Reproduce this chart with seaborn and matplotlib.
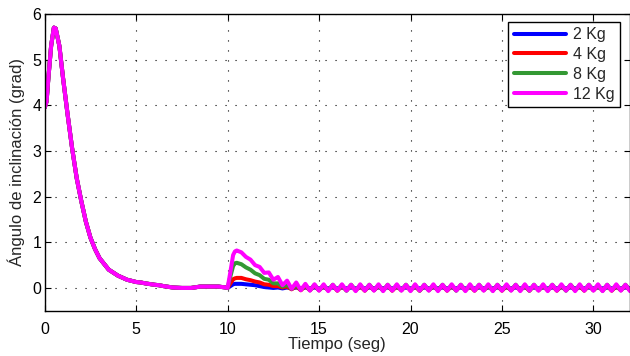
import numpy as np
import pandas as pd
import matplotlib
matplotlib.use("Agg")
import matplotlib.pyplot as plt
import seaborn as sns

# ---- data ----
masses = ["2 Kg", "4 Kg", "8 Kg", "12 Kg"]
colors = ["#0000ff", "#ff0000", "#339933", "#ff00ff"]

# common response before the disturbance
t_common = [0.0, 0.1, 0.2, 0.35, 0.5, 0.6, 0.8, 1.0, 1.25, 1.5, 1.75, 2.0, 2.25, 2.5,
            2.75, 3.0, 3.5, 4.0, 4.5, 5.0, 5.25, 5.5, 6.0, 6.25, 6.5, 7.0, 7.5, 8.0,
            8.5, 9.0, 9.5, 9.9, 10.0]
y_common = [3.95, 4.08, 4.6, 5.3, 5.7, 5.68, 5.3, 4.6, 3.8, 3.05, 2.4, 1.9, 1.45, 1.1,
            0.85, 0.65, 0.4, 0.27, 0.18, 0.13, 0.12, 0.1, 0.07, 0.06, 0.04, 0.01, 0.0, 0.0,
            0.03, 0.03, 0.03, 0.01, 0.0]

# disturbance rise (t = 10.15, 10.3, 10.4)
t_rise = [10.15, 10.3, 10.4]
rise_2 = [0.04, 0.08, 0.09]
rise_4 = [0.10, 0.19, 0.21]
rise_8 = [0.25, 0.48, 0.54]
rise_12 = [0.35, 0.72, 0.80]

# after 10.5 s, sampled every 0.25 s
t_after_start = 10.5
t_after_step = 0.25
after_2 = [0.09, 0.09, 0.08, 0.07, 0.06, 0.04, 0.02, 0.01, 0.0, 0.01,
           -0.01, 0.01, -0.01, 0.01, -0.01, 0.01, -0.01, 0.01, -0.01, 0.01,
           -0.01, 0.01, -0.01, 0.01, -0.01, 0.01, -0.01, 0.01, -0.01, 0.01,
           -0.01, 0.01, -0.01, 0.01, -0.01, 0.01, -0.01, 0.01, -0.01, 0.01,
           -0.01, 0.01, -0.01, 0.01, -0.01, 0.01, -0.01, 0.01, -0.01, 0.01,
           -0.01, 0.01, -0.01, 0.01, -0.01, 0.01, -0.01, 0.01, -0.01, 0.01,
           -0.01, 0.01, -0.01, 0.01, -0.01, 0.01, -0.01, 0.01, -0.01, 0.01,
           -0.01, 0.01, -0.01, 0.01, -0.01, 0.01, -0.01, 0.01, -0.01, 0.01,
           -0.01, 0.01, -0.01, 0.01, -0.01, 0.01, -0.01, 0.01, -0.01, 0.01]
after_4 = [0.22, 0.22, 0.19, 0.17, 0.14, 0.12, 0.08, 0.07, 0.04, 0.04,
           0.01, 0.03, -0.03, 0.04, -0.05, 0.04, -0.05, 0.05, -0.05, 0.04,
           -0.05, 0.05, -0.06, 0.04, -0.05, 0.05, -0.05, 0.04, -0.06, 0.05,
           -0.05, 0.04, -0.05, 0.05, -0.06, 0.04, -0.05, 0.05, -0.05, 0.04,
           -0.06, 0.05, -0.05, 0.04, -0.05, 0.05, -0.06, 0.04, -0.05, 0.05,
           -0.05, 0.04, -0.06, 0.05, -0.05, 0.04, -0.05, 0.05, -0.06, 0.04,
           -0.05, 0.05, -0.05, 0.04, -0.06, 0.05, -0.05, 0.04, -0.05, 0.05,
           -0.06, 0.04, -0.05, 0.05, -0.05, 0.04, -0.06, 0.05, -0.05, 0.04,
           -0.05, 0.05, -0.06, 0.04, -0.05, 0.05, -0.05, 0.04, -0.06, 0.05]
after_8 = [0.55, 0.52, 0.45, 0.40, 0.32, 0.28, 0.20, 0.18, 0.10, 0.10,
           0.03, 0.07, -0.02, 0.06, -0.04, 0.06, -0.05, 0.07, -0.05, 0.06,
           -0.05, 0.07, -0.05, 0.06, -0.06, 0.07, -0.05, 0.06, -0.05, 0.07,
           -0.05, 0.06, -0.06, 0.07, -0.05, 0.06, -0.05, 0.07, -0.05, 0.06,
           -0.06, 0.07, -0.05, 0.06, -0.05, 0.07, -0.05, 0.06, -0.06, 0.07,
           -0.05, 0.06, -0.05, 0.07, -0.05, 0.06, -0.06, 0.07, -0.05, 0.06,
           -0.05, 0.07, -0.05, 0.06, -0.06, 0.07, -0.05, 0.06, -0.05, 0.07,
           -0.05, 0.06, -0.06, 0.07, -0.05, 0.06, -0.05, 0.07, -0.05, 0.06,
           -0.06, 0.07, -0.05, 0.06, -0.05, 0.07, -0.05, 0.06, -0.06, 0.07]
after_12 = [0.82, 0.78, 0.68, 0.62, 0.50, 0.46, 0.33, 0.34, 0.18, 0.24,
            0.06, 0.16, -0.02, 0.12, -0.05, 0.09, -0.06, 0.08, -0.06, 0.08,
            -0.07, 0.07, -0.06, 0.08, -0.06, 0.07, -0.07, 0.08, -0.06, 0.07,
            -0.06, 0.08, -0.07, 0.07, -0.06, 0.08, -0.06, 0.07, -0.07, 0.08,
            -0.06, 0.07, -0.06, 0.08, -0.07, 0.07, -0.06, 0.08, -0.06, 0.07,
            -0.07, 0.08, -0.06, 0.07, -0.06, 0.08, -0.07, 0.07, -0.06, 0.08,
            -0.06, 0.07, -0.07, 0.08, -0.06, 0.07, -0.06, 0.08, -0.07, 0.07,
            -0.06, 0.08, -0.06, 0.07, -0.07, 0.08, -0.06, 0.07, -0.06, 0.08,
            -0.07, 0.07, -0.06, 0.08, -0.06, 0.07, -0.07, 0.08, -0.06, 0.07]

x_ticks = [0, 5, 10, 15, 20, 25, 30]
y_ticks = [0, 1, 2, 3, 4, 5, 6]

# ---- build long table ----
rises = [rise_2, rise_4, rise_8, rise_12]
afters = [after_2, after_4, after_8, after_12]
frames = []
for m, r, a in zip(masses, rises, afters):
    t_a = t_after_start + t_after_step * np.arange(len(a))
    t = np.concatenate([t_common, t_rise, t_a])
    y = np.concatenate([y_common, r, a])
    frames.append(pd.DataFrame({"t": t, "y": y, "masa": m}))
df = pd.concat(frames, ignore_index=True)

# ---- plot ----
sns.set_style("ticks")
plt.rcParams["font.family"] = ["Liberation Sans", "DejaVu Sans"]
plt.rcParams["xtick.direction"] = "in"
plt.rcParams["ytick.direction"] = "in"
plt.rcParams["lines.solid_joinstyle"] = "round"
plt.rcParams["lines.solid_capstyle"] = "round"

fig = plt.figure(figsize=(6.3, 3.56), dpi=100)
ax = fig.add_axes([0.071, 0.127, 0.929, 0.834])

sns.lineplot(data=df, x="t", y="y", hue="masa", hue_order=masses, palette=colors,
             estimator=None, sort=False, units="masa", linewidth=2.9, ax=ax, legend=True)

ax.set_xlim(0, 32)
ax.set_ylim(-0.5, 6)
ax.set_xticks(x_ticks)
ax.set_yticks(y_ticks)
ax.tick_params(axis="both", labelsize=11.5, top=True, right=True, length=4,
               width=0.8, colors="black")
ax.tick_params(axis="x", pad=8)
ax.tick_params(axis="y", pad=2.5)
ax.grid(True, color="black", linestyle=(0, (1, 8)), linewidth=0.8)
for s in ax.spines.values():
    s.set_color("black")
    s.set_linewidth(1.0)
ax.set_xlabel("Tiempo (seg)", fontsize=12, labelpad=0)
ax.set_ylabel("Ángulo de inclinación (grad)", fontsize=12, labelpad=5)

leg = ax.legend(loc="upper right", bbox_to_anchor=(0.983, 0.974), borderaxespad=0,
                fontsize=11.5, frameon=True, fancybox=False,
                edgecolor="black", framealpha=1, handlelength=3.3, handletextpad=0.4,
                labelspacing=0.3, borderpad=0.35)
leg.get_frame().set_linewidth(1.0)
for line in leg.get_lines():
    line.set_linewidth(2.9)

fig.savefig("out.png", dpi=100)
